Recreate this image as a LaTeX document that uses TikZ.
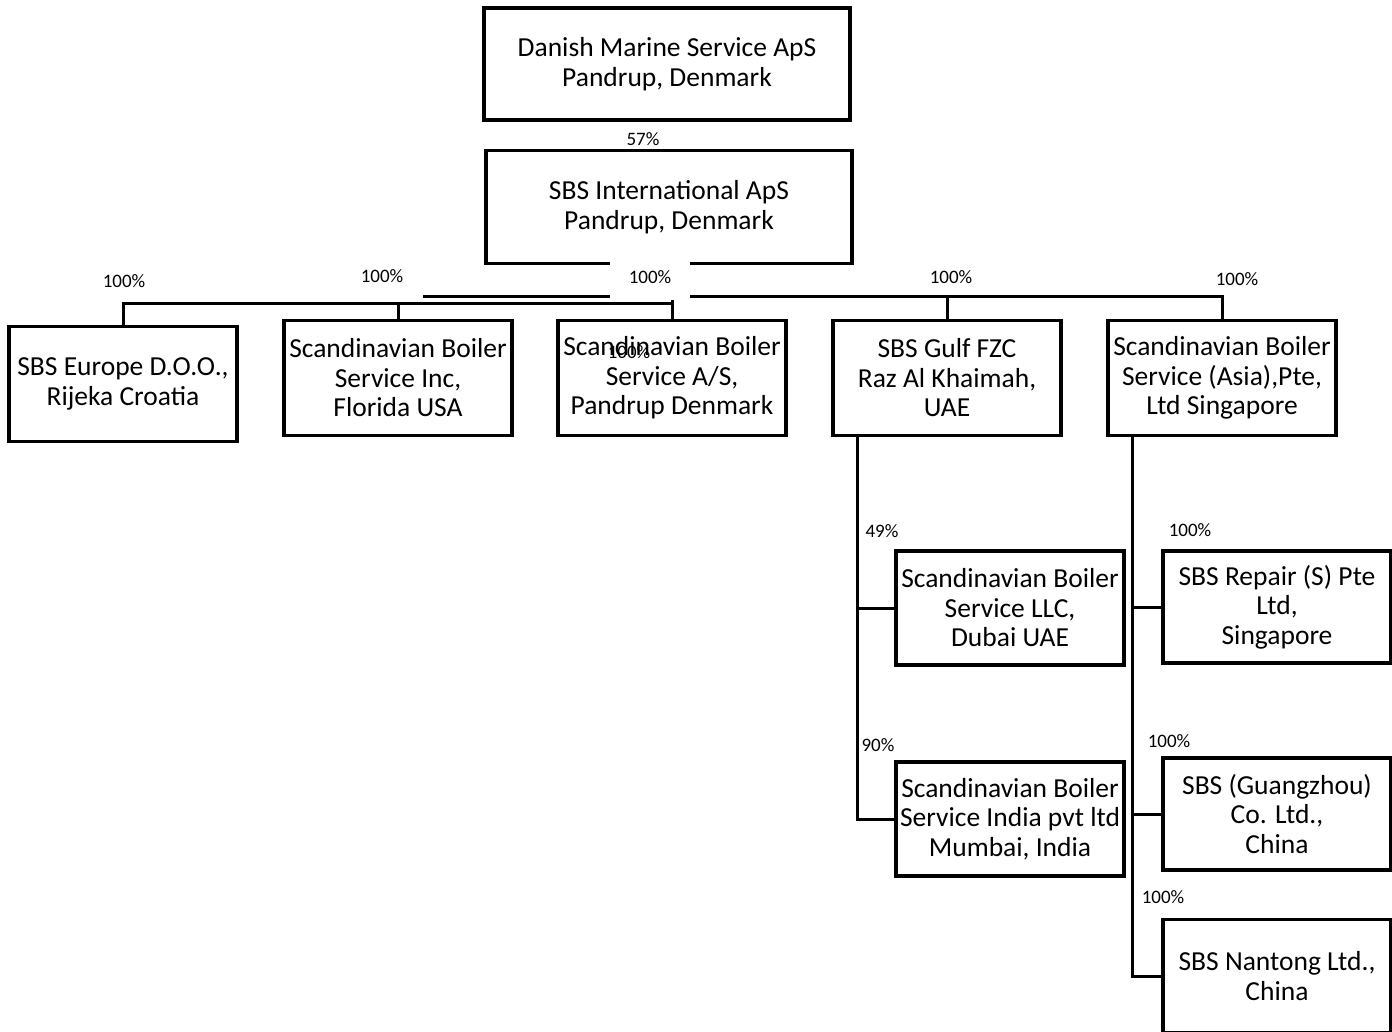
\documentclass[tikz,border=0pt]{standalone}
\usepackage{fontspec}
\setmainfont{Carlito}
\tikzstyle{company} = [rectangle, minimum width=228pt, minimum height=115pt, inner sep=0pt, align=center, draw=black, line width=3.5pt, font=\fontsize{27.5}{29.5}\selectfont]
\tikzstyle{share} = [inner sep=0pt, font=\fontsize{19}{22}\selectfont]
\tikzstyle{link} = [line width=3pt]

\begin{document}
\begin{tikzpicture}[x=1pt, y=-1pt]
  \useasboundingbox (0,0) rectangle (1392,1032);

  % Top: owners
  \node (dms) at (667,64) [company, minimum width=366pt, minimum height=112pt] {Danish Marine Service ApS\\Pandrup, Denmark};
  \node (sbsint) at (669,207) [company, minimum width=366pt, minimum height=113pt] {SBS International ApS\\Pandrup, Denmark};

  % Row of subsidiaries
  \node (europe) at (123,384) [company] {SBS Europe D.O.O.,\\Rijeka Croatia};
  \node (inc) at (398,378) [company] {Scandinavian Boiler\\Service Inc,\\Florida USA};
  \node (as) at (672,378) [company] {Scandinavian Boiler\\Service A/S,\\Pandrup Denmark};
  \node (gulf) at (947,378) [company] {SBS Gulf FZC\\Raz Al Khaimah,\\UAE};
  \node (asia) at (1222,378) [company] {Scandinavian Boiler\\Service (Asia),Pte,\\Ltd Singapore};

  % Under SBS Gulf
  \node (llc) at (1010,608) [company, minimum height=114pt] {Scandinavian Boiler\\Service LLC,\\Dubai UAE};
  \node (india) at (1010,819) [company, minimum height=114pt] {Scandinavian Boiler\\Service India pvt ltd\\Mumbai, India};

  % Under SBS Asia
  \node (repair) at (1277,607) [company, minimum height=112pt] {SBS Repair (S) Pte\\Ltd,\\Singapore};
  \node (guangzhou) at (1277,814) [company, minimum height=112pt] {SBS (Guangzhou)\\Co. Ltd.,\\China};
  \node (nantong) at (1277,976) [company, minimum height=113pt] {SBS Nantong Ltd.,\\China};

  % Busses
  \coordinate (lbus) at (123,304);
  \coordinate (rbus) at (423,297);
  \coordinate (gtrunk) at (857,435);
  \coordinate (atrunk) at (1132,435);

  \draw[link] (europe.north) |- (as.north |- lbus) -- (as.north);
  \draw[link] (inc.north) -- (inc.north |- lbus);
  \draw[link] (rbus) -| (asia.north);
  \draw[link] (gulf.north) -- (gulf.north |- rbus);
  \draw[link] (as.north |- lbus) -- (as.north |- rbus);

  % Trunks
  \draw[link] (gtrunk) |- (llc.west);
  \draw[link] (gtrunk) |- (india.west);
  \draw[link] (atrunk) |- (repair.west);
  \draw[link] (atrunk) |- (guangzhou.west);
  \draw[link] (atrunk) |- (nantong.west);

  % Shares
  \node (p57) at (643,139) [share] {57\%};
  \node (pEurope) at (124,281) [share] {100\%};
  \node (pInc) at (382,276) [share] {100\%};
  \node (pAS) at (650,277) [share, fill=white, minimum width=80pt, minimum height=46pt] {100\%};
  \node (pASin) at (629,352) [share] {100\%};
  \node (pGulf) at (951,277) [share] {100\%};
  \node (pAsia) at (1237,279) [share] {100\%};
  \node (pLLC) at (882,531) [share] {49\%};
  \node (pIndia) at (878,745) [share] {90\%};
  \node (pRepair) at (1190,530) [share] {100\%};
  \node (pGuangzhou) at (1169,741) [share] {100\%};
  \node (pNantong) at (1163,897) [share] {100\%};

\end{tikzpicture}
\end{document}
